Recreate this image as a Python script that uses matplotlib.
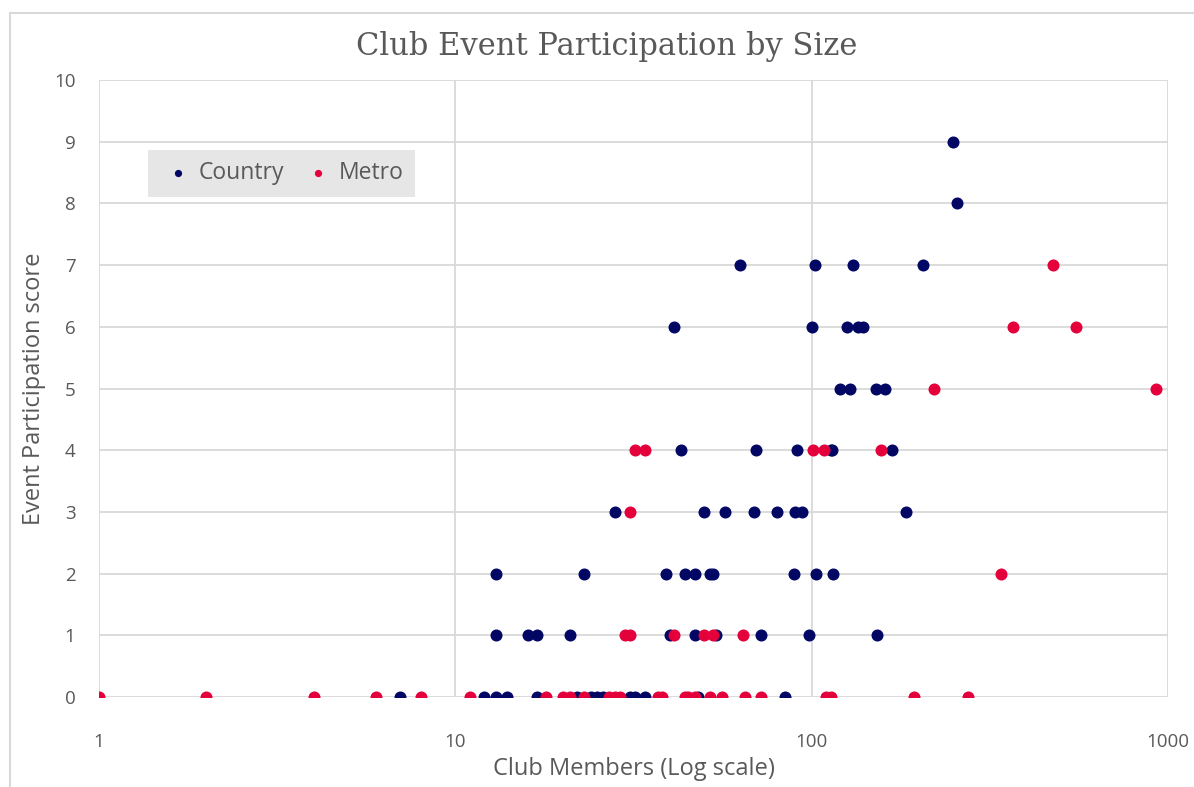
import matplotlib.pyplot as plt
from matplotlib.patches import Rectangle
from matplotlib.ticker import FixedLocator, NullLocator, FuncFormatter

# Country clubs: members and event participation score
country_members = [7, 12, 13, 14, 17, 22, 24, 25, 26, 31, 32, 34, 48, 84,
                   13, 16, 17, 21, 40, 47, 54, 72, 98, 153,
                   13, 23, 39, 44, 47, 52, 53, 89, 103, 115,
                   28, 50, 57, 69, 80, 90, 94, 184,
                   43, 70, 91, 113, 114, 168,
                   120, 128, 152, 161,
                   41, 100, 126, 135, 139,
                   63, 102, 131, 205,
                   255,
                   250]
country_score = [0] * 14 + [1] * 10 + [2] * 10 + [3] * 8 + [4] * 6 + [5] * 4 + [6] * 5 + [7] * 4 + [8] + [9]

# Metro clubs
metro_members = [1, 2, 4, 6, 8, 11, 18, 20, 21, 23, 27, 28, 29, 37, 38, 44, 45, 47, 52, 56, 65, 72, 110, 113, 194, 274,
                 30, 31, 41, 50, 53, 64,
                 339,
                 31,
                 32, 34, 101, 108, 157,
                 221, 928,
                 367, 552,
                 475]
metro_score = [0] * 26 + [1] * 6 + [2] + [3] + [4] * 5 + [5] * 2 + [6] * 2 + [7]

x_ticks = [1, 10, 100, 1000]
y_ticks = list(range(0, 11))

text_color = '#595959'
grid_color = '#d9d9d9'
navy = '#020764'
red = '#e3003b'

plt.rcParams['font.family'] = ['Open Sans', 'DejaVu Sans']

fig = plt.figure(figsize=(11.94, 7.87), dpi=100)
ax = fig.add_axes([99 / 1194, 1 - 697 / 787, 1069 / 1194, 617 / 787])

# chart border
fig.patches.append(Rectangle((10 / 1194, -0.05), 1.1, 1 - 13 / 787 + 0.05, transform=fig.transFigure,
                             fill=False, edgecolor='#d9d9d9', linewidth=1.5))

ax.scatter(country_members, country_score, s=75, color=navy, label='Country', zorder=3, linewidths=0)
ax.scatter(metro_members, metro_score, s=75, color=red, label='Metro', zorder=3, linewidths=0)

ax.set_xscale('log')
ax.set_xlim(1, 1000)
ax.set_ylim(0, 10)
ax.xaxis.set_major_locator(FixedLocator(x_ticks))
ax.xaxis.set_minor_locator(NullLocator())
ax.xaxis.set_major_formatter(FuncFormatter(lambda v, _: f'{v:g}'))
ax.set_yticks(y_ticks)

for s in ax.spines.values():
    s.set_visible(False)
ax.grid(True, color=grid_color, linewidth=1.3, zorder=0)
ax.set_axisbelow(True)
ax.tick_params(length=0, labelsize=13.5, labelcolor=text_color)
ax.tick_params(axis='x', pad=26)
ax.tick_params(axis='y', pad=17)
for lab in ax.get_xticklabels() + ax.get_yticklabels():
    lab.set_clip_on(False)

ax.set_xlabel('Club Members (Log scale)', fontsize=17, color=text_color, labelpad=4)
ax.set_ylabel('Event Participation score', fontsize=17, color=text_color)
ax.yaxis.set_label_coords(-0.05, 0.5)
fig.text(607 / 1194, 1 - 47 / 787, 'Club Event Participation by Size', ha='center', va='center',
         fontsize=22, color=text_color, family=['DejaVu Serif'])

leg = ax.legend(loc='center', bbox_to_anchor=(0.171, 0.849), ncol=2, fontsize=16.5, frameon=True,
                fancybox=False, facecolor='#e6e6e6', edgecolor='none', framealpha=1,
                handletextpad=0.1, columnspacing=0.7, handlelength=1.6, markerscale=0.6, borderpad=0.5)
for t in leg.get_texts():
    t.set_color(text_color)

fig.savefig('out.png', dpi=100)
